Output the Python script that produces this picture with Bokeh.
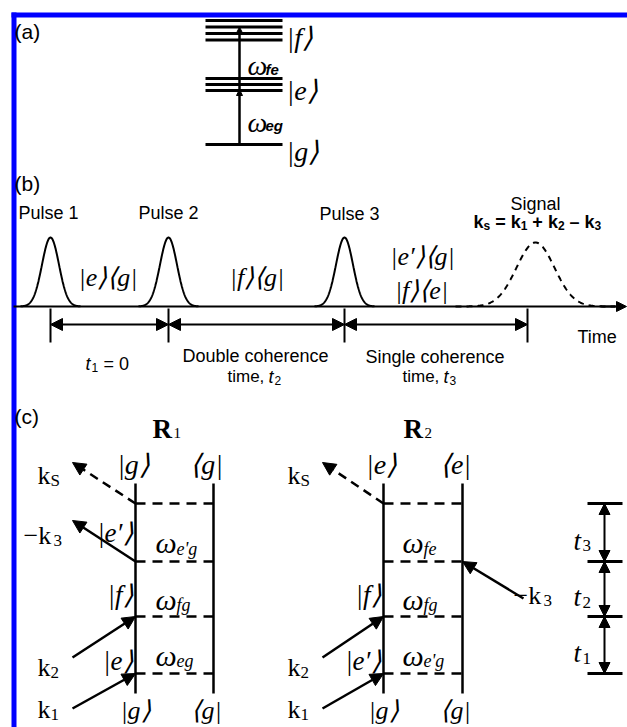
import numpy as np
from bokeh.plotting import figure
from bokeh.models import Range1d, Arrow, NormalHead
from bokeh.core.properties import value
from bokeh.embed import file_html
from bokeh.resources import INLINE

# ---------------- data ----------------
panel_labels = ["(a)", "(b)", "(c)"]
# (a) energy levels (sublevel rows)
f_levels = [20, 26.5, 33, 39.5]
e_levels = [78, 84, 90]
g_level = [144]
level_names = ["|f⟩", "|e⟩", "|g⟩"]
# (b) pulse sequence
pulse_names = ["Pulse 1", "Pulse 2", "Pulse 3"]
pulse_t = [50, 168, 344]
signal_t = 535
pulse_amp = 69
signal_amp = 64
pulse_sigma = 8.5
signal_sigma = 19
coherence_kets = ["|e⟩⟨g|", "|f⟩⟨g|", "|e′⟩⟨g|", "|f⟩⟨e|"]
interval_marks = [50, 168, 344, 527]
# (c) Feynman diagrams
rungs = [503, 561, 616, 673]
R1_omega = [("ω", "e'g"), ("ω", "fg"), ("ω", "eg")]
R2_omega = [("ω", "fe"), ("ω", "fg"), ("ω", "e'g")]
R1_side = ["|e′⟩", "|f⟩", "|e⟩"]
R2_side = ["|f⟩", "|e′⟩"]
time_labels = ["3", "2", "1"]

SANS = "Liberation Sans"
SERIF = "Liberation Serif"

p = figure(width=627, height=727, x_range=Range1d(0, 627), y_range=Range1d(727, 0),
           output_backend="svg", toolbar_location=None, min_border=0)
p.axis.visible = False
p.grid.visible = False
p.outline_line_color = None


def T(x, y, s, size, font=SANS, style="normal", align="left", baseline="alphabetic"):
    p.text(x=[x], y=[y], text=[s], text_font=value(font), text_font_size=value(f"{size}px"),
           text_font_style=style, text_align=align, text_baseline=baseline, text_color="black")


def L(xs, ys, w=2.0, dash="solid"):
    p.line(xs, ys, line_color="black", line_width=w, line_dash=dash)


def A(x0, y0, x1, y1, w=2.0, size=12, dash="solid", both=False):
    head = lambda: NormalHead(size=size, fill_color="black", line_color="black", line_width=1)
    p.add_layout(Arrow(x_start=x0, y_start=y0, x_end=x1, y_end=y1, line_width=w,
                       line_color="black", line_dash=dash, end=head(),
                       start=head() if both else None))


# blue frame
p.quad(left=[11], right=[640], top=[12], bottom=[17], fill_color="#0000FF", line_color=None)
p.quad(left=[11], right=[16], top=[12], bottom=[740], fill_color="#0000FF", line_color=None)

# panel labels
for lab, yb in zip(panel_labels, [31, 183, 416]):
    T(14, yb, lab, 21)

# ---------------- (a) ----------------
for y in f_levels + e_levels + g_level:
    L([205, 282], [y, y], w=3)
A(239, g_level[0], 239, e_levels[-1] - 1, w=2.5, size=6)
A(239, e_levels[-1], 239, f_levels[1], w=2.5, size=6)
for s, yb in zip(level_names, [37, 90, 151]):
    T(286, yb, s, 28, font=SERIF, style="italic")
T(247, 65, "ω", 28, font=SERIF, style="italic")
T(265, 69, "fe", 15, font=SANS, style="bold italic")
T(247, 122, "ω", 28, font=SERIF, style="italic")
T(265, 125, "eg", 15, font=SANS, style="bold italic")

# ---------------- (b) ----------------
base = 306
L([13, 615], [base, base], w=2)
A(600, base, 626, base, w=2, size=10)
for name, x0, yb in zip(pulse_names, [18, 138, 319], [212, 212, 213]):
    T(x0, yb, name, 18)
for t in pulse_t:
    xs = np.linspace(t - 30, t + 30, 200)
    L(xs, base - pulse_amp * np.exp(-(xs - t) ** 2 / (2 * pulse_sigma ** 2)), w=2)
xs = np.linspace(signal_t - 80, signal_t + 80, 300)
L(xs, base - signal_amp * np.exp(-(xs - signal_t) ** 2 / (2 * signal_sigma ** 2)), w=2, dash="6 5")
T(535, 203, "Signal", 18, align="center")
# k_s = k1 + k2 - k3 (bold), laid out glyph by glyph: (glyph, size, drop, gap before)
runs = [("k", 18, 0, 0), ("s", 12, 4, 0), ("=", 18, 0, 5), ("k", 18, 0, 5), ("1", 12, 4, 0),
        ("+", 18, 0, 5), ("k", 18, 0, 5), ("2", 12, 4, 0), ("–", 18, 0, 5), ("k", 18, 0, 5),
        ("3", 12, 4, 0)]
wid = {"k": 0.556, "s": 0.556, "=": 0.584, "+": 0.584, "–": 0.556,
       "1": 0.556, "2": 0.556, "3": 0.556}
x = 473
for s, sz, dy, gap in runs:
    x += gap
    T(x, 221 + dy, s, sz, style="bold")
    x += wid[s] * sz

for s, cx, yb in zip(coherence_kets, [107.5, 256.5, 422, 421], [277, 277, 256, 290]):
    T(cx, yb, s, 26, font=SERIF, style="italic", align="center")

for t in interval_marks:
    L([t, t], [308, 342], w=2)
for a, b in zip(interval_marks[:-1], interval_marks[1:]):
    A(a, 324, b, 324, w=2, size=12, both=True)
T(577, 336, "Time", 18)
# t1 = 0
T(85, 363, "t", 18, style="italic")
T(91, 367, "1", 12)
T(103, 363, "= 0", 18)
T(182, 355, "Double coherence", 18)
T(227, 376, "time,", 17)
T(268, 376, "t", 18, style="italic")
T(274, 380, "2", 12)
T(365, 356, "Single coherence", 18)
T(402, 376, "time,", 17)
T(443, 376, "t", 18, style="italic")
T(449, 380, "3", 12)

# ---------------- (c) ----------------
def diagram(xl, xr, top_ket, top_bra, omegas, om_x, rtitle, rx):
    T(rx, 428, "R", 27, font=SERIF, style="bold")
    T(rx + 21, 432, rtitle, 15, font=SERIF)
    T(xl - 2, 464, top_ket, 28, font=SERIF, style="italic", align="center")
    T(xr - 7, 464, top_bra, 28, font=SERIF, style="italic", align="center")
    T(xl, 710, "|g⟩", 26, font=SERIF, style="italic", align="center")
    T(xr - 7, 710, "⟨g|", 26, font=SERIF, style="italic", align="center")
    L([xl, xl], [483, 693], w=2.5)
    L([xr, xr], [483, 693], w=2.5)
    for y in rungs:
        L([xl, xr], [y, y], w=2.5, dash="10 7")
    for (om, sub), y0, y1 in zip(omegas, rungs[:-1], rungs[1:]):
        yb = (y0 + y1) / 2 + 10
        T(om_x, yb, om, 30, font=SERIF, style="italic")
        T(om_x + 21, yb + 6, sub, 18, font=SERIF, style="italic")


diagram(135, 213, "|g⟩", "⟨g|", R1_omega, 155, "1", 152)
diagram(383, 462, "|e⟩", "⟨e|", R2_omega, 402, "2", 403)

for s, yb in zip(R1_side, [532, 594, 660]):
    T(133, yb, s, 27, font=SERIF, style="italic", align="right")
for s, yb in zip(R2_side, [594, 660]):
    T(381, yb, s, 27, font=SERIF, style="italic", align="right")


def klabel(x, yb, main, sub):
    T(x, yb, main, 26, font=SERIF)
    T(x + (13 if main == "k" else 30), yb + 5, sub, 17, font=SERIF)


# R1 arrows
A(135, rungs[0], 72, 462, w=2.5, size=13, dash="9 6")
A(135, rungs[1], 72, 520, w=2.5, size=13)
A(72, 657, 135, rungs[2], w=2.5, size=13)
A(72, 708, 135, rungs[3], w=2.5, size=13)
klabel(37, 475, "k", "S")
klabel(23, 535, "−k", "3")
klabel(37, 667, "k", "2")
klabel(37, 709, "k", "1")
# R2 arrows
A(383, rungs[0], 322, 462, w=2.5, size=13, dash="9 6")
A(523, 598, 462, rungs[1], w=2.5, size=13)
A(322, 657, 383, rungs[2], w=2.5, size=13)
A(322, 708, 383, rungs[3], w=2.5, size=13)
klabel(287, 475, "k", "S")
klabel(513, 595, "−k", "3")
klabel(287, 667, "k", "2")
klabel(287, 709, "k", "1")

# time scale
for y in rungs:
    L([587, 622], [y, y], w=3)
for (a, b), lab in zip(zip(rungs[:-1], rungs[1:]), time_labels):
    A(604, a, 604, b, w=2, size=11, both=True)
    yb = (a + b) / 2 + 8
    T(573, yb, "t", 27, font=SERIF, style="italic")
    T(582, yb + 5, lab, 17, font=SERIF)

open("out.html", "w").write(file_html(p, INLINE))
